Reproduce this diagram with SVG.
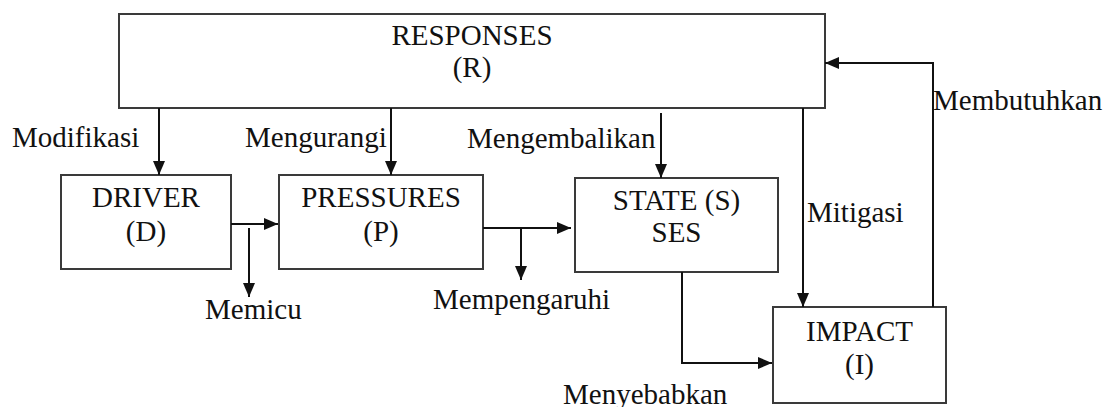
<svg xmlns="http://www.w3.org/2000/svg" width="1105" height="407" viewBox="0 0 1105 407">
<style>
  .box { fill: #fff; stroke: #3a3a3a; stroke-width: 2; }
  .lbl { font-family: "Liberation Serif", "Times New Roman", serif; font-size: 29px; fill: #111; }
  .mid { text-anchor: middle; }
  .con { fill: none; stroke: #111; stroke-width: 2; }
</style>
<defs>
  <marker id="arr" markerUnits="userSpaceOnUse" markerWidth="14" markerHeight="12" refX="14" refY="6" orient="auto">
    <path d="M0,0 L14,6 L0,12 z" fill="#111"/>
  </marker>
</defs>
<rect width="1105" height="407" fill="#fff"/>

<g id="responses">
  <rect class="box" x="119" y="14" width="706" height="94"/>
  <text class="lbl mid" x="472" y="45">RESPONSES</text>
  <text class="lbl mid" x="472" y="77">(R)</text>
</g>
<g id="driver">
  <rect class="box" x="61" y="175" width="170" height="94"/>
  <text class="lbl mid" x="146" y="207">DRIVER</text>
  <text class="lbl mid" x="146" y="241">(D)</text>
</g>
<g id="pressures">
  <rect class="box" x="279" y="175" width="204" height="94"/>
  <text class="lbl mid" x="381" y="207">PRESSURES</text>
  <text class="lbl mid" x="381" y="241">(P)</text>
</g>
<g id="state">
  <rect class="box" x="575" y="178" width="203" height="94"/>
  <text class="lbl mid" x="676.5" y="210">STATE (S)</text>
  <text class="lbl mid" x="676.5" y="242">SES</text>
</g>
<g id="impact">
  <rect class="box" x="773" y="307" width="173" height="96"/>
  <text class="lbl mid" x="859.5" y="341">IMPACT</text>
  <text class="lbl mid" x="859.5" y="374">(I)</text>
</g>

<g id="connectors">
  <line class="con" x1="159" y1="108" x2="159" y2="175" marker-end="url(#arr)"/>
  <line class="con" x1="391" y1="108" x2="391" y2="175" marker-end="url(#arr)"/>
  <line class="con" x1="661" y1="113" x2="661" y2="178" marker-end="url(#arr)"/>
  <line class="con" x1="803" y1="108" x2="803" y2="307" marker-end="url(#arr)"/>
  <polyline class="con" points="933,307 933,63 825,63" marker-end="url(#arr)"/>
  <line class="con" x1="231" y1="224" x2="278" y2="224" marker-end="url(#arr)"/>
  <line class="con" x1="249" y1="228" x2="249" y2="297" marker-end="url(#arr)"/>
  <line class="con" x1="483" y1="228" x2="571" y2="228" marker-end="url(#arr)"/>
  <line class="con" x1="521" y1="228" x2="521" y2="280" marker-end="url(#arr)"/>
  <polyline class="con" points="682,272 682,363 772,363" marker-end="url(#arr)"/>
</g>

<g id="labels">
  <text class="lbl" x="12" y="147">Modifikasi</text>
  <text class="lbl" x="245" y="147">Mengurangi</text>
  <text class="lbl" x="467" y="148">Mengembalikan</text>
  <text class="lbl" x="933" y="110">Membutuhkan</text>
  <text class="lbl" x="807" y="222">Mitigasi</text>
  <text class="lbl" x="205" y="319">Memicu</text>
  <text class="lbl" x="433" y="309">Mempengaruhi</text>
  <text class="lbl" x="563" y="404">Menyebabkan</text>
</g>
</svg>
